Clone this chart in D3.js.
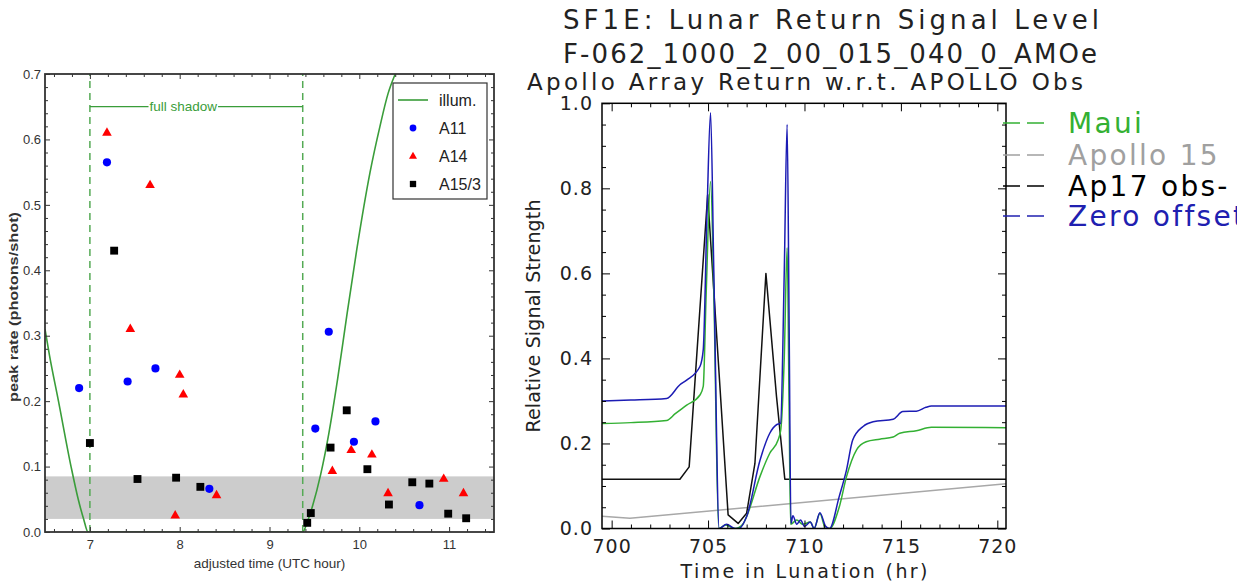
<!DOCTYPE html>
<html>
<head>
<meta charset="utf-8">
<script src="https://cdn.jsdelivr.net/npm/d3@7"></script>
<style>
  html, body { margin: 0; padding: 0; background: #fff; overflow: hidden; }
  svg { display: block; }
</style>
</head>
<body>
<script>
// ---- left panel: peak rate vs adjusted time ----
const illumTime  = [6.5, 6.55, 6.65, 6.79, 6.87, 6.93, 6.98, 9.37, 9.42, 9.48, 9.57, 9.66, 9.76, 9.86, 9.97, 10.12, 10.23, 10.32, 10.40, 10.48];
const illumLevel = [0.31, 0.27, 0.2, 0.1, 0.05, 0.02, 0.0, 0.0, 0.015, 0.04, 0.088, 0.15, 0.235, 0.33, 0.43, 0.55, 0.62, 0.67, 0.70, 0.725];

const a11Time = [6.88, 7.19, 7.42, 7.73, 8.33, 9.51, 9.66, 9.94, 10.18, 10.67];
const a11Rate = [0.22, 0.565, 0.23, 0.25, 0.066, 0.158, 0.306, 0.138, 0.169, 0.041];

const a14Time = [7.19, 7.45, 7.67, 7.95, 8.0, 8.04, 8.41, 9.70, 9.91, 10.14, 10.32, 10.94, 11.16];
const a14Rate = [0.61, 0.31, 0.53, 0.025, 0.24, 0.21, 0.056, 0.093, 0.125, 0.118, 0.059, 0.081, 0.059];

const a15Time = [7.0, 7.27, 7.53, 7.96, 8.23, 9.42, 9.46, 9.68, 9.86, 10.09, 10.33, 10.59, 10.78, 10.99, 11.19];
const a15Rate = [0.136, 0.43, 0.081, 0.083, 0.069, 0.014, 0.029, 0.129, 0.186, 0.096, 0.042, 0.076, 0.074, 0.028, 0.021];

const shadeBand = [0.02, 0.085];
const shadowStart = 7.0, shadowEnd = 9.37, shadowLevel = 0.65;
const leftXTicks = [7, 8, 9, 10, 11];
const leftYTicks = [0, 0.1, 0.2, 0.3, 0.4, 0.5, 0.6, 0.7];
const leftLegend = ['illum.', 'A11', 'A14', 'A15/3'];

// ---- right panel: lunar return signal level ----
const mauiTime  = [699.5, 701, 702.85, 703.3, 703.89, 704.58, 704.75, 704.9, 705.13, 705.3, 705.55, 705.9, 706.4, 706.8, 707.0, 707.69, 708.2, 708.63, 708.77, 708.95, 709.1, 709.2, 709.28, 709.6, 709.9, 710.3, 710.5, 710.8, 711.1, 711.3, 711.8, 712.18, 712.7, 713.2, 713.9, 714.6, 714.94, 715.8, 716.58, 720.45];
const mauiLevel = [0.247, 0.249, 0.254, 0.27, 0.29, 0.314, 0.334, 0.55, 0.816, 0.55, 0.0, 0.008, 0.0, 0.01, 0.028, 0.122, 0.177, 0.208, 0.232, 0.4, 0.66, 0.3, 0.01, 0.02, 0.01, 0.015, 0.0, 0.035, 0.0, 0.0, 0.05, 0.122, 0.185, 0.204, 0.21, 0.215, 0.224, 0.23, 0.238, 0.237];

const ap15Time  = [699.5, 700.95, 720.45];
const ap15Level = [0.029, 0.024, 0.105];

const ap17Time  = [699.5, 703.54, 704.02, 704.98, 706.04, 706.56, 707.0, 707.43, 708.0, 708.55, 708.98, 720.45];
const ap17Level = [0.116, 0.116, 0.145, 0.785, 0.032, 0.012, 0.036, 0.153, 0.60, 0.31, 0.116, 0.116];

const zeroTime  = [699.5, 701, 702.85, 703.54, 703.89, 704.58, 704.75, 704.95, 705.13, 705.3, 705.58, 705.96, 706.4, 706.6, 707.0, 707.69, 708.2, 708.55, 708.76, 708.95, 709.1, 709.2, 709.3, 709.4, 709.6, 709.8, 710.0, 710.3, 710.5, 710.8, 711.1, 711.3, 711.8, 712.18, 712.5, 713.04, 713.56, 714.6, 715.1, 715.8, 716.3, 716.58, 720.45];
const zeroLevel = [0.30, 0.302, 0.306, 0.338, 0.349, 0.381, 0.42, 0.75, 0.978, 0.6, 0.0, 0.01, 0.0, 0.0, 0.028, 0.16, 0.224, 0.244, 0.247, 0.6, 0.95, 0.5, 0.012, 0.03, 0.01, 0.02, 0.005, 0.015, 0.0, 0.037, 0.005, 0.0, 0.075, 0.138, 0.208, 0.24, 0.251, 0.257, 0.275, 0.276, 0.285, 0.288, 0.288];

const rightXTicks = [700, 705, 710, 715, 720];
const rightYTicks = [0, 0.2, 0.4, 0.6, 0.8, 1.0];
const rightLegend = ['Maui', 'Apollo 15', 'Ap17 obs-', 'Zero offset'];
const titleLines = ['SF1E: Lunar Return Signal Level', 'F-062_1000_2_00_015_040_0_AMOe', 'Apollo Array Return w.r.t. APOLLO Obs'];

document.addEventListener('DOMContentLoaded', function() {
    const svg = d3.select('body').append('svg')
        .attr('width', 1237)
        .attr('height', 582);

    const zip = (xs, ys) => xs.map((v, i) => [v, ys[i]]);

    // draw a box frame with inward ticks on all four sides, labels bottom/left only
    function addFrame(g, x, y, o) {
        const [x0, x1] = x.range();
        const [y0, y1] = y.range();
        const sides = [
            {ax: d3.axisBottom, s: x, t: `translate(0,${y0})`, major: o.xMajor, minor: o.xMinor, fmt: o.xFmt, pad: o.xPad},
            {ax: d3.axisTop,    s: x, t: `translate(0,${y1})`, major: o.xMajor, minor: o.xMinor, fmt: null},
            {ax: d3.axisLeft,   s: y, t: `translate(${x0},0)`, major: o.yMajor, minor: o.yMinor, fmt: o.yFmt, pad: o.yPad},
            {ax: d3.axisRight,  s: y, t: `translate(${x1},0)`, major: o.yMajor, minor: o.yMinor, fmt: null}
        ];
        sides.forEach(sd => {
            const gm = g.append('g').attr('transform', sd.t)
                .call(sd.ax(sd.s).tickValues(sd.minor).tickSize(-o.minorLen).tickFormat(''));
            gm.select('.domain').remove();
            const gM = g.append('g').attr('transform', sd.t)
                .call(sd.ax(sd.s).tickValues(sd.major).tickSize(-o.majorLen)
                    .tickPadding(sd.pad || 0).tickFormat(sd.fmt ? sd.fmt : ''));
            gM.select('.domain').remove();
            gM.attr('font-family', o.font).attr('font-size', o.fontSize);
            gM.selectAll('text').attr('fill', o.textColor).attr('letter-spacing', o.spacing || 0);
            [gm, gM].forEach(a => a.selectAll('.tick line').attr('stroke', o.color).attr('stroke-width', o.tickW));
        });
        g.append('rect')
            .attr('x', x0).attr('y', y1)
            .attr('width', x1 - x0).attr('height', y0 - y1)
            .attr('fill', 'none')
            .attr('stroke', o.color)
            .attr('stroke-width', o.frameW);
    }

    function renderLeft() {
        const x = d3.scaleLinear().domain([6.5, 11.5]).range([45, 494]);
        const y = d3.scaleLinear().domain([0, 0.7]).range([532, 74]);
        const g = svg.append('g');
        const green = '#3a9d3a';
        const font = 'Liberation Sans, Arial, sans-serif';

        g.append('clipPath').attr('id', 'clipL')
            .append('rect').attr('x', 45).attr('y', 74).attr('width', 449).attr('height', 458);

        // grey band
        g.append('rect')
            .attr('x', 45).attr('width', 449)
            .attr('y', y(shadeBand[1]))
            .attr('height', y(shadeBand[0]) - y(shadeBand[1]))
            .attr('fill', '#cccccc');

        // shadow boundaries
        [shadowStart, shadowEnd].forEach(t => {
            g.append('line')
                .attr('x1', x(t)).attr('x2', x(t))
                .attr('y1', y(0)).attr('y2', y(0.7))
                .attr('stroke', '#55aa55')
                .attr('stroke-width', 1.5)
                .attr('stroke-dasharray', '7,5');
        });

        // full shadow label with line broken around it
        const lx = x(8.04);
        const lab = g.append('text')
            .attr('x', lx).attr('y', y(shadowLevel) + 4.5)
            .attr('text-anchor', 'middle')
            .attr('font-family', font)
            .attr('font-size', 13.5)
            .attr('fill', green)
            .text('full shadow');
        const lw = lab.node().getComputedTextLength();
        [[x(shadowStart), lx - lw / 2 - 1], [lx + lw / 2 + 1, x(shadowEnd)]].forEach(seg => {
            g.append('line')
                .attr('x1', seg[0]).attr('x2', seg[1])
                .attr('y1', y(shadowLevel)).attr('y2', y(shadowLevel))
                .attr('stroke', green).attr('stroke-width', 1.3);
        });

        // illumination curve
        const line = d3.line().x(d => x(d[0])).y(d => y(d[1])).curve(d3.curveMonotoneX);
        g.append('path')
            .datum(zip(illumTime, illumLevel))
            .attr('clip-path', 'url(#clipL)')
            .attr('fill', 'none')
            .attr('stroke', green)
            .attr('stroke-width', 1.6)
            .attr('d', line);

        // markers
        const sym = {
            A11: d3.symbol().type(d3.symbolCircle).size(52),
            A14: d3.symbol().type(d3.symbolTriangle).size(40),
            A15: d3.symbol().type(d3.symbolSquare).size(62)
        };
        const sets = [
            {k: 'A11', d: zip(a11Time, a11Rate), c: '#0000ff'},
            {k: 'A14', d: zip(a14Time, a14Rate), c: '#ff0000'},
            {k: 'A15', d: zip(a15Time, a15Rate), c: '#000000'}
        ];
        sets.forEach(s => {
            g.selectAll(null).data(s.d).enter().append('path')
                .attr('transform', d => `translate(${x(d[0])},${y(d[1])})`)
                .attr('d', sym[s.k])
                .attr('fill', s.c);
        });

        addFrame(g, x, y, {
            xMajor: leftXTicks, xMinor: d3.range(6.6, 11.5, 0.2).filter(v => Math.abs(v - Math.round(v)) > 0.05),
            yMajor: leftYTicks, yMinor: d3.range(0.02, 0.7, 0.02).filter(v => Math.abs(v * 10 - Math.round(v * 10)) > 0.05),
            xFmt: d3.format('d'), yFmt: d3.format('.1f'),
            xPad: 8, yPad: 4, majorLen: 5, minorLen: 3,
            color: '#333', textColor: '#333', tickW: 1, frameW: 1.8,
            font: font, fontSize: 13
        });

        // axis titles
        g.append('text')
            .attr('x', 269.5).attr('y', 568)
            .attr('text-anchor', 'middle')
            .attr('font-family', font)
            .attr('font-size', 13.5).attr('fill', '#333')
            .text('adjusted time (UTC hour)');
        g.append('text')
            .attr('transform', 'translate(18,307) rotate(-90)')
            .attr('text-anchor', 'middle')
            .attr('font-family', font)
            .attr('font-size', 13).attr('font-weight', 'bold').attr('fill', '#333')
            .attr('textLength', 190).attr('lengthAdjust', 'spacingAndGlyphs')
            .text('peak rate (photons/shot)');

        // legend
        const lg = g.append('g');
        lg.append('rect')
            .attr('x', 393).attr('y', 83).attr('width', 94).attr('height', 116)
            .attr('fill', '#fff').attr('stroke', '#333').attr('stroke-width', 1.2);
        const rows = [100, 128, 156.5, 184];
        lg.append('line').attr('x1', 398).attr('x2', 428).attr('y1', rows[0]).attr('y2', rows[0])
            .attr('stroke', green).attr('stroke-width', 1.6);
        const legSym = [null,
            d3.symbol().type(d3.symbolCircle).size(36),
            d3.symbol().type(d3.symbolTriangle).size(28),
            d3.symbol().type(d3.symbolSquare).size(40)];
        const legCol = [null, '#0000ff', '#ff0000', '#000'];
        leftLegend.forEach((name, i) => {
            if (i > 0) {
                lg.append('path').attr('transform', `translate(413,${rows[i]})`)
                    .attr('d', legSym[i]).attr('fill', legCol[i]);
            }
            lg.append('text')
                .attr('x', 439).attr('y', rows[i] + 5.5)
                .attr('font-family', font)
                .attr('font-size', 16).attr('fill', '#222')
                .text(name);
        });
    }

    function renderRight() {
        const x = d3.scaleLinear().domain([699.5, 720.45]).range([602, 1006]);
        const y = d3.scaleLinear().domain([0, 1]).range([528.5, 103.3]);
        const g = svg.append('g');
        const font = 'DejaVu Sans, Verdana, sans-serif';

        g.append('clipPath').attr('id', 'clipR')
            .append('rect').attr('x', 602).attr('y', 103.3).attr('width', 404).attr('height', 425.2);

        const straight = d3.line().x(d => x(d[0])).y(d => y(d[1]));
        const smooth = d3.line().x(d => x(d[0])).y(d => y(d[1])).curve(d3.curveMonotoneX);
        const series = [
            {d: zip(ap15Time, ap15Level), c: '#a8a8a8', l: straight},
            {d: zip(ap17Time, ap17Level), c: '#111111', l: straight},
            {d: zip(mauiTime, mauiLevel), c: '#33b033', l: smooth},
            {d: zip(zeroTime, zeroLevel), c: '#1c1cb4', l: smooth}
        ];
        series.forEach(s => {
            g.append('path')
                .datum(s.d)
                .attr('clip-path', 'url(#clipR)')
                .attr('fill', 'none')
                .attr('stroke', s.c)
                .attr('stroke-width', 1.5)
                .attr('stroke-linejoin', 'round')
                .attr('d', s.l);
        });

        addFrame(g, x, y, {
            xMajor: rightXTicks, xMinor: d3.range(700, 721, 1).filter(v => v % 5 !== 0),
            yMajor: rightYTicks, yMinor: d3.range(0.05, 1.0, 0.05).filter(v => Math.abs(v * 5 - Math.round(v * 5)) > 0.05),
            xFmt: d3.format('d'), yFmt: d3.format('.1f'),
            xPad: 11, yPad: 9, majorLen: 8, minorLen: 4,
            color: '#000', textColor: '#222', tickW: 1, frameW: 1.5,
            font: font, fontSize: 19, spacing: 1
        });

        // titles
        const tl = [
            {x: 831, y: 29, size: 26, len: 536},
            {x: 830, y: 63, size: 26, len: 534},
            {x: 805, y: 90, size: 23, len: 556}
        ];
        titleLines.forEach((t, i) => {
            g.append('text')
                .attr('x', tl[i].x).attr('y', tl[i].y)
                .attr('text-anchor', 'middle')
                .attr('font-family', font)
                .attr('font-size', tl[i].size)
                .attr('fill', '#222')
                .attr('textLength', tl[i].len)
                .text(t);
        });

        // axis titles
        g.append('text')
            .attr('x', 804).attr('y', 578)
            .attr('text-anchor', 'middle')
            .attr('font-family', font).attr('font-size', 19).attr('fill', '#222')
            .attr('textLength', 247)
            .text('Time in Lunation (hr)');
        g.append('text')
            .attr('transform', 'translate(540,316) rotate(-90)')
            .attr('text-anchor', 'middle')
            .attr('font-family', font).attr('font-size', 19).attr('fill', '#222')
            .attr('textLength', 233)
            .text('Relative Signal Strength');

        // legend (runs off the right edge, as in the source image)
        const rows = [123, 155, 186, 216];
        const cols = ['#33b033', '#a0a0a0', '#000000', '#2020b0'];
        rightLegend.forEach((name, i) => {
            g.append('line')
                .attr('x1', 1003).attr('x2', 1047)
                .attr('y1', rows[i]).attr('y2', rows[i])
                .attr('stroke', cols[i]).attr('stroke-width', 1.5)
                .attr('stroke-dasharray', '17,7');
            g.append('text')
                .attr('x', 1068).attr('y', rows[i] + 10)
                .attr('font-family', font).attr('font-size', 28)
                .attr('letter-spacing', 2.3)
                .attr('fill', cols[i])
                .text(name);
        });
    }

    try {
        renderLeft();
        renderRight();
    } catch (error) {
        console.error('Error rendering chart:', error);
    }
});
</script>
</body>
</html>
